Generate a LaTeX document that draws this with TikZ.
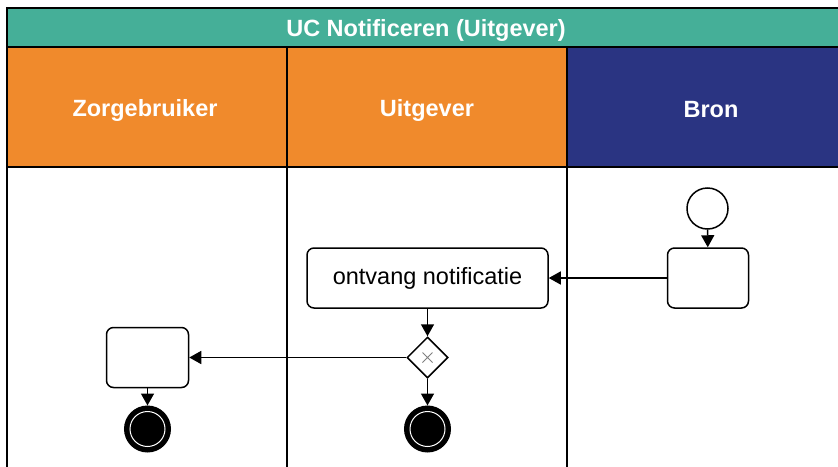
\documentclass[tikz,border=0pt]{standalone}
\usepackage{fontspec}
\setmainfont{Liberation Sans}
\usetikzlibrary{arrows.meta,shapes.geometric}
\definecolor{ucteal}{HTML}{45AF98}
\definecolor{ucorange}{HTML}{F08A2C}
\definecolor{ucnavy}{HTML}{2A3482}
\begin{document}
\begin{tikzpicture}[x=1pt,y=-1pt,
  laneline/.style={draw=black,line width=2pt},
  hdr/.style={text=white,font=\fontsize{23.5}{26}\selectfont\bfseries},
  task/.style={draw=black,rounded corners=7pt,line width=1.5pt,fill=white,inner sep=0pt,font=\fontsize{23.5}{26}\selectfont},
  startev/.style={circle,draw=black,line width=1.5pt,fill=white,minimum size=41pt,inner sep=0pt},
  endev/.style={circle,draw=black,line width=3pt,fill=black,minimum size=44pt,inner sep=0pt},
  gateway/.style={diamond,draw=black,line width=1.5pt,fill=white,minimum width=41pt,minimum height=41pt,inner sep=0pt},
  flow/.style={line width=1.5pt,-{Triangle[length=12pt,width=13pt]}}]
\useasboundingbox (0,0) rectangle (838,466);
\fill[white] (0,0) rectangle (838,466);
\clip (0,0) rectangle (838,466);
% pool and lanes
\fill[ucteal] (7,8) rectangle (847,47);
\fill[ucorange] (7,47) rectangle (567,167);
\fill[ucnavy] (567,47) rectangle (847,167);
\draw[laneline] (7,600) -- (7,8) -- (847,8) -- (847,600);
\draw[laneline] (7,47) -- (847,47);
\draw[laneline] (7,167) -- (847,167);
\draw[laneline] (287,47) -- (287,600);
\draw[laneline] (567,47) -- (567,600);
\node[hdr] (title) at (426,30) {UC Notificeren (Uitgever)};
\node[hdr] (h1) at (145,110) {Zorgebruiker};
\node[hdr] (h2) at (427,110) {Uitgever};
\node[hdr] (h3) at (711,110) {Bron};
% elements
\node[startev] (start) at (707.5,208.5) {};
\node[task,minimum width=81pt,minimum height=60pt] (bron) at (708,278) {};
\node[task,minimum width=241pt,minimum height=60pt] (notif) at (427.5,278) {ontvang notificatie};
\node[gateway] (gw) at (427.5,357.5) {};
\draw[gray,line width=0.8pt] ([shift={(-5,-5)}]gw.center) -- ([shift={(5,5)}]gw.center)
  ([shift={(-5,5)}]gw.center) -- ([shift={(5,-5)}]gw.center);
\node[task,minimum width=82pt,minimum height=60pt] (zt) at (147.5,357.5) {};
\node[endev] (e1) at (147.5,429) {};
\node[endev] (e2) at (427.5,429) {};
\draw[white,line width=1pt] (e1.center) circle (17.5);
\draw[white,line width=1pt] (e2.center) circle (17.5);
% flows
\draw[flow] (start) -- (bron);
\draw[flow] (bron) -- (notif);
\draw[flow] (notif) -- (gw);
\draw[flow] (gw) -- (zt);
\draw[flow] (gw) -- (e2);
\draw[flow] (zt) -- (e1);
\end{tikzpicture}
\end{document}
